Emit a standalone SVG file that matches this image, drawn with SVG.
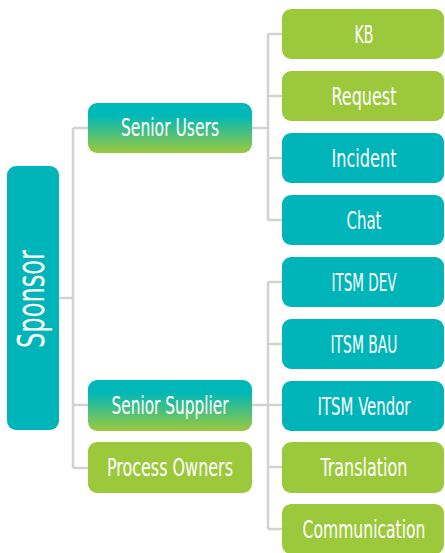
<svg xmlns="http://www.w3.org/2000/svg" width="445" height="553" viewBox="0 0 445 553">
  <style>
    .teal { fill: #00b5b9; }
    .green { fill: #9cc93c; }
    .grad { fill: url(#tealToGreen); }
    .lbl { font-family: "Liberation Sans Narrow", "DejaVu Sans Condensed", "Liberation Sans", sans-serif; font-size: 25px; fill: #ffffff; text-anchor: middle; }
    .conn { fill: none; stroke: #d2d2d2; stroke-width: 2.5; }
  </style>
  <defs>
    <linearGradient id="tealToGreen" x1="0" y1="0" x2="0" y2="1">
      <stop offset="0" stop-color="#00b8b8"/>
      <stop offset="0.25" stop-color="#00b8b8"/>
      <stop offset="1" stop-color="#9cc93c"/>
    </linearGradient>
  </defs>

  <!-- connectors -->
  <g id="connectors">
    <path class="conn" d="M59 298 H73 M73 128 V468 M73 128 H88 M73 405 H88 M73 468 H88"/>
    <path class="conn" d="M252 128 H268 M268 34 V220 M268 34 H282 M268 96 H282 M268 158 H282 M268 220 H282"/>
    <path class="conn" d="M252 405 H268 M268 282 V529 M268 282 H282 M268 344 H282 M268 405 H282 M268 467 H282 M268 529 H282"/>
  </g>

  <!-- sponsor -->
  <g id="sponsor">
    <rect class="teal" x="7" y="166" width="52" height="264" rx="9"/>
    <text class="lbl" transform="translate(44 299) rotate(-90)" style="font-size:38px" textLength="98" lengthAdjust="spacingAndGlyphs">Sponsor</text>
  </g>

  <!-- second level -->
  <g id="senior-users">
    <rect class="grad" x="88" y="103" width="164" height="50" rx="9"/>
    <text class="lbl" x="170" y="136" textLength="98" lengthAdjust="spacingAndGlyphs">Senior Users</text>
  </g>
  <g id="senior-supplier">
    <rect class="grad" x="88" y="380" width="164" height="51" rx="9"/>
    <text class="lbl" x="170" y="414" textLength="117" lengthAdjust="spacingAndGlyphs">Senior Supplier</text>
  </g>
  <g id="process-owners">
    <rect class="green" x="88" y="442" width="164" height="51" rx="9"/>
    <text class="lbl" x="170" y="476" textLength="126" lengthAdjust="spacingAndGlyphs">Process Owners</text>
  </g>

  <!-- third level -->
  <g id="kb">
    <rect class="green" x="282" y="9" width="162" height="50" rx="9"/>
    <text class="lbl" x="364" y="43" textLength="19" lengthAdjust="spacingAndGlyphs">KB</text>
  </g>
  <g id="request">
    <rect class="green" x="282" y="71" width="162" height="50" rx="9"/>
    <text class="lbl" x="364" y="105" textLength="65" lengthAdjust="spacingAndGlyphs">Request</text>
  </g>
  <g id="incident">
    <rect class="teal" x="282" y="133" width="162" height="50" rx="9"/>
    <text class="lbl" x="364" y="167" textLength="65" lengthAdjust="spacingAndGlyphs">Incident</text>
  </g>
  <g id="chat">
    <rect class="teal" x="282" y="195" width="162" height="50" rx="9"/>
    <text class="lbl" x="364" y="229" textLength="35" lengthAdjust="spacingAndGlyphs">Chat</text>
  </g>
  <g id="itsm-dev">
    <rect class="teal" x="282" y="257" width="162" height="50" rx="9"/>
    <text class="lbl" x="364" y="291" textLength="65" lengthAdjust="spacingAndGlyphs">ITSM DEV</text>
  </g>
  <g id="itsm-bau">
    <rect class="teal" x="282" y="319" width="162" height="50" rx="9"/>
    <text class="lbl" x="364" y="353" textLength="67" lengthAdjust="spacingAndGlyphs">ITSM BAU</text>
  </g>
  <g id="itsm-vendor">
    <rect class="teal" x="282" y="381" width="162" height="50" rx="9"/>
    <text class="lbl" x="364" y="415" textLength="93" lengthAdjust="spacingAndGlyphs">ITSM Vendor</text>
  </g>
  <g id="translation">
    <rect class="green" x="282" y="442" width="162" height="51" rx="9"/>
    <text class="lbl" x="364" y="476" textLength="87" lengthAdjust="spacingAndGlyphs">Translation</text>
  </g>
  <g id="communication">
    <rect class="green" x="282" y="504" width="162" height="50" rx="9"/>
    <text class="lbl" x="364" y="538" textLength="123" lengthAdjust="spacingAndGlyphs">Communication</text>
  </g>
</svg>
